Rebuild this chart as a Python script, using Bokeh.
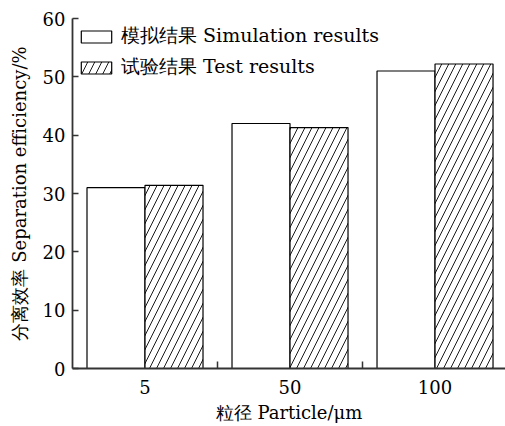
from bokeh.plotting import figure
from bokeh.models import FixedTicker, ColumnDataSource
from bokeh.transform import dodge
from bokeh.embed import file_html
from bokeh.resources import INLINE

# ---- data ----
categories = ["5", "50", "100"]
positions = [1, 2, 3]
simulation = [31.0, 42.0, 51.0]
test = [31.4, 41.3, 52.2]
y_ticks = [0, 10, 20, 30, 40, 50, 60]
group_edges = [1.5, 2.5]

FONT = "DejaVu Serif"

src = ColumnDataSource(dict(x=positions, sim=simulation, test=test))

p = figure(width=505, height=426, x_range=(0.5, 3.486), y_range=(0, 60),
           output_backend="svg", toolbar_location=None,
           min_border_left=72, min_border_right=0, min_border_top=18,
           min_border_bottom=58)

p.vbar(x=dodge("x", -0.2), top="sim", width=0.4, source=src,
       fill_color="white", line_color="black", line_width=1.2,
       legend_label="模拟结果 Simulation results")
p.vbar(x=dodge("x", 0.2), top="test", width=0.4, source=src,
       fill_color="white", line_color="black", line_width=1.2,
       hatch_pattern="/", hatch_color="black", hatch_scale=14, hatch_weight=0.9,
       legend_label="试验结果 Test results")

p.grid.visible = False
p.outline_line_color = None
p.background_fill_color = "white"
p.border_fill_color = "white"

# x axis
xa = p.xaxis[0]
xa.ticker = FixedTicker(ticks=positions, minor_ticks=group_edges)
xa.major_label_overrides = {k: v for k, v in zip(positions, categories)}
xa.major_tick_in = 0
xa.major_tick_out = 0
xa.minor_tick_in = 7
xa.minor_tick_out = 0
xa.minor_tick_line_color = "#333333"
xa.minor_tick_line_width = 1.5
xa.axis_label = "粒径 Particle/μm"

# y axis
ya = p.yaxis[0]
ya.ticker = FixedTicker(ticks=y_ticks, minor_ticks=[])
ya.major_tick_in = 6
ya.major_tick_out = 0
ya.axis_label = "分离效率 Separation efficiency/%"

for ax in (xa, ya):
    ax.axis_line_color = "#333333"
    ax.axis_line_width = 1.8
    ax.major_tick_line_color = "#333333"
    ax.major_tick_line_width = 1.5
    ax.major_label_text_font = FONT
    ax.major_label_text_font_size = "18px"
    ax.major_label_text_color = "black"
    ax.axis_label_text_font = FONT
    ax.axis_label_text_font_size = "18px"
    ax.axis_label_text_font_style = "normal"
    ax.axis_label_text_color = "black"

xa.major_label_standoff = 11
xa.axis_label_standoff = 5
ya.major_label_standoff = 7
ya.axis_label_standoff = 10

lg = p.legend[0]
lg.location = "top_left"
lg.margin = 5
lg.padding = 12
lg.spacing = 5
lg.glyph_width = 38
lg.glyph_height = 15
lg.label_standoff = 6
lg.label_text_font = FONT
lg.label_text_font_size = "19px"
lg.label_text_color = "black"
lg.border_line_color = None
lg.background_fill_alpha = 0

open("out.html", "w").write(file_html(p, INLINE))
